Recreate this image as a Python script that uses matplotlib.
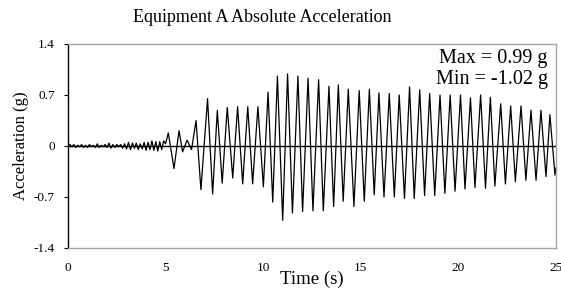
import numpy as np
import matplotlib
matplotlib.use("Agg")
from matplotlib import pyplot as plt

plt.rcParams['font.family'] = ['Liberation Serif', 'DejaVu Serif']

# pre-event noise, one reading every 0.1 s from 0 to 5 s
noise_vals = [0.00, 0.02, -0.01, 0.02, -0.02, 0.01, -0.01, 0.02, -0.02, 0.01,
              -0.02, 0.02, -0.01, 0.01, -0.02, 0.03, -0.02, 0.01, -0.01, 0.02,
              -0.02, 0.04, -0.03, 0.02, -0.02, 0.02, -0.01, 0.02, -0.03, 0.03,
              -0.04, 0.05, -0.05, 0.04, -0.03, 0.04, -0.05, 0.03, -0.04, 0.05,
              -0.06, 0.05, -0.05, 0.07, -0.06, 0.06, -0.07, 0.06, -0.05, 0.07,
              0.03]
noise_t = np.arange(len(noise_vals)) * 0.1

# peaks and troughs of the shaking part (time s, acceleration g)
peak_t = [5.14, 5.43, 5.69, 5.87, 6.10, 6.33, 6.56, 6.81, 7.15, 7.41,
          7.65, 7.90, 8.16, 8.44, 8.69, 8.95, 9.21, 9.46, 9.73, 10.01,
          10.25, 10.49, 10.73, 11.00, 11.25, 11.50, 11.78, 12.02, 12.30, 12.55,
          12.84, 13.08, 13.37, 13.61, 13.85, 14.10, 14.36, 14.65, 14.92, 15.18,
          15.44, 15.69, 15.93, 16.19, 16.46, 16.72, 16.97, 17.24, 17.50, 17.74,
          18.02, 18.27, 18.53, 18.79, 19.06, 19.31, 19.58, 19.83, 20.11, 20.34,
          20.62, 20.85, 21.14, 21.39, 21.64, 21.87, 22.17, 22.41, 22.68, 22.92,
          23.21, 23.46, 23.72, 23.98, 24.23, 24.49, 24.69, 24.95, 25.0]
peak_a = [0.18, -0.31, 0.21, -0.08, 0.08, -0.05, 0.35, -0.60, 0.65, -0.66,
          0.49, -0.51, 0.53, -0.44, 0.54, -0.52, 0.54, -0.52, 0.54, -0.56,
          0.74, -0.77, 0.96, -1.02, 0.99, -0.92, 0.96, -0.90, 0.93, -0.89,
          0.91, -0.89, 0.82, -0.83, 0.84, -0.76, 0.78, -0.83, 0.76, -0.76,
          0.78, -0.67, 0.73, -0.70, 0.72, -0.70, 0.70, -0.72, 0.81, -0.72,
          0.77, -0.68, 0.72, -0.68, 0.70, -0.65, 0.70, -0.62, 0.70, -0.59,
          0.66, -0.57, 0.70, -0.58, 0.67, -0.55, 0.58, -0.52, 0.55, -0.49,
          0.55, -0.47, 0.49, -0.47, 0.49, -0.42, 0.43, -0.40, -0.30]

t = np.concatenate([noise_t, peak_t])
acc = np.concatenate([noise_vals, peak_a])

yticks = [-1.4, -0.7, 0, 0.7, 1.4]
ytick_labels = ["-1.4", "-0.7", "0", "0.7", "1.4"]
xticks = [0, 5, 10, 15, 20, 25]

fig = plt.figure(figsize=(5.61, 2.91), dpi=100)
ax = fig.add_axes([0.1212, 0.1478, 0.8698, 0.701])

ax.axhline(0, color='black', lw=1.0, zorder=1)
ax.plot(t, acc, color='black', lw=0.9, zorder=2)

ax.set_xlim(0, 25)
ax.set_ylim(-1.4, 1.4)
ax.set_yticks(yticks)
ax.set_yticklabels(ytick_labels, fontsize=9.5)
ax.set_xticks(xticks)
ax.set_xticklabels([str(x) for x in xticks], fontsize=9.5)
ax.tick_params(axis='x', length=0, pad=10)
ax.tick_params(axis='y', direction='out', length=3, width=0.8, pad=6.5)

for side in ['top', 'right', 'bottom']:
    ax.spines[side].set_color('#a6a6a6')
    ax.spines[side].set_linewidth(1.0)
ax.spines['left'].set_color('black')
ax.spines['left'].set_linewidth(1.0)

fig.text(262 / 561, 1 - 17 / 291, "Equipment A Absolute Acceleration",
         ha='center', va='center', fontsize=13)
ax.set_xlabel("Time (s)", fontsize=13.5)
ax.xaxis.set_label_coords(0.5, -0.152)
ax.xaxis.label.set_va('center')
ax.set_ylabel("Acceleration (g)", fontsize=12)
ax.yaxis.set_label_coords(-(68 - 21) / 488, 0.5)
ax.yaxis.label.set_va('center')

ax.text(0.983, 0.93, "Max = 0.99 g", transform=ax.transAxes, ha='right',
        va='center', fontsize=14.5)
ax.text(0.983, 0.826, "Min = -1.02 g", transform=ax.transAxes, ha='right',
        va='center', fontsize=14.5)

fig.savefig("out.png", dpi=100)
